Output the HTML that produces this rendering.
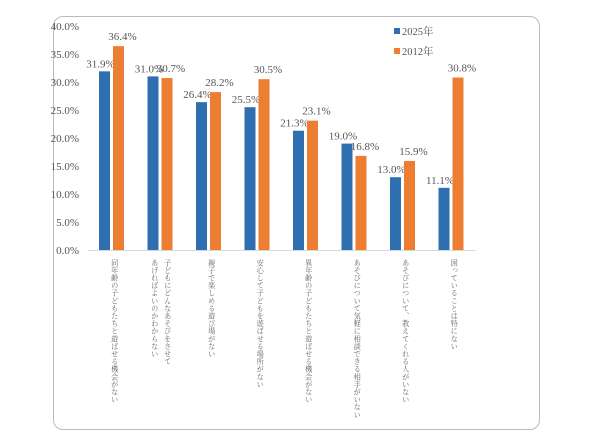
<!DOCTYPE html>
<html><head><meta charset="utf-8"><style>
html,body{margin:0;padding:0;background:#fff;width:600px;height:443px;overflow:hidden}
.frame{position:absolute;left:53px;top:16px;width:487px;height:414px;border:1px solid #bbb;border-radius:10px;box-sizing:border-box}
svg{position:absolute;left:0;top:0}
text{font-family:"Liberation Serif","Noto Serif CJK SC",serif;fill:#555}
.cat{position:absolute;top:259px;writing-mode:vertical-rl;font-family:"Liberation Serif","Noto Serif CJK SC",serif;font-size:7.2px;letter-spacing:0.4px;color:#666;line-height:13px;white-space:pre}
</style></head><body>
<div class="frame"></div>
<svg id="chart" width="600" height="443"></svg>
<div id="cats"></div>
<script>
const categories=["同年齢の子どもたちと遊ばせる機会がない","子どもにどんなあそびをさせて\nあげればよいのかわからない","親子で楽しめる遊び場がない","安心して子どもを遊ばせる場所がない","異年齢の子どもたちと遊ばせる機会がない","あそびについて気軽に相談できる相手がいない","あそびについて、教えてくれる人がいない","困っていることは特にない"];
const series2025=[31.9,31.0,26.4,25.5,21.3,19.0,13.0,11.1];
const series2012=[36.4,30.7,28.2,30.5,23.1,16.8,15.9,30.8];
const yTicks=[0,5,10,15,20,25,30,35,40];
const seriesNames=["2025年","2012年"];
const NS="http://www.w3.org/2000/svg";
const svg=document.getElementById('chart');
const x0=88,x1=476,y0=250,yTop=26;
const gw=(x1-x0)/categories.length;
const y=v=>y0-(v/40)*(y0-yTop);
const gx=i=>x0+i*gw;
function mk(t,a){const e=document.createElementNS(NS,t);for(const k in a)e.setAttribute(k,a[k]);svg.appendChild(e);return e;}
yTicks.forEach(t=>{const e=mk('text',{x:79,y:y(t)+4,'text-anchor':'end','font-size':11});e.textContent=t.toFixed(1)+'%';

});
const ax=mk('line',{x1:x0,x2:x1,y1:y0+0.5,y2:y0+0.5,stroke:'#d8d8d8','stroke-width':1});


const cols=['#2e6fb0','#ec7d31'];
[series2025,series2012].forEach((s,si)=>{s.forEach((v,i)=>{
const bx=gx(i)+11+si*14;
const r=mk('rect',{x:bx,y:y(v),width:11,height:y0-y(v),fill:cols[si]});


const t=mk('text',{x:bx+5.5+(si?4:-4),y:y(v)-(si?6:4),'text-anchor':'middle','font-size':11});
t.textContent=v.toFixed(1)+'%';


});});
seriesNames.forEach((n,i)=>{
const r=mk('rect',{x:394,y:28+i*20,width:6,height:6,fill:cols[i]});


const t=mk('text',{x:402,y:35+i*20,'font-size':10.5});t.textContent=n;


});
const cd=document.getElementById('cats');
categories.forEach((c,i)=>{
const d=document.createElement('div');d.className='cat';d.textContent=c;
const lines=c.split('\n').length;
d.style.left=(gx(i)+gw/2-lines*6.5-(lines>1?0:-2))+'px';


cd.appendChild(d);});
</script>
</body></html>
